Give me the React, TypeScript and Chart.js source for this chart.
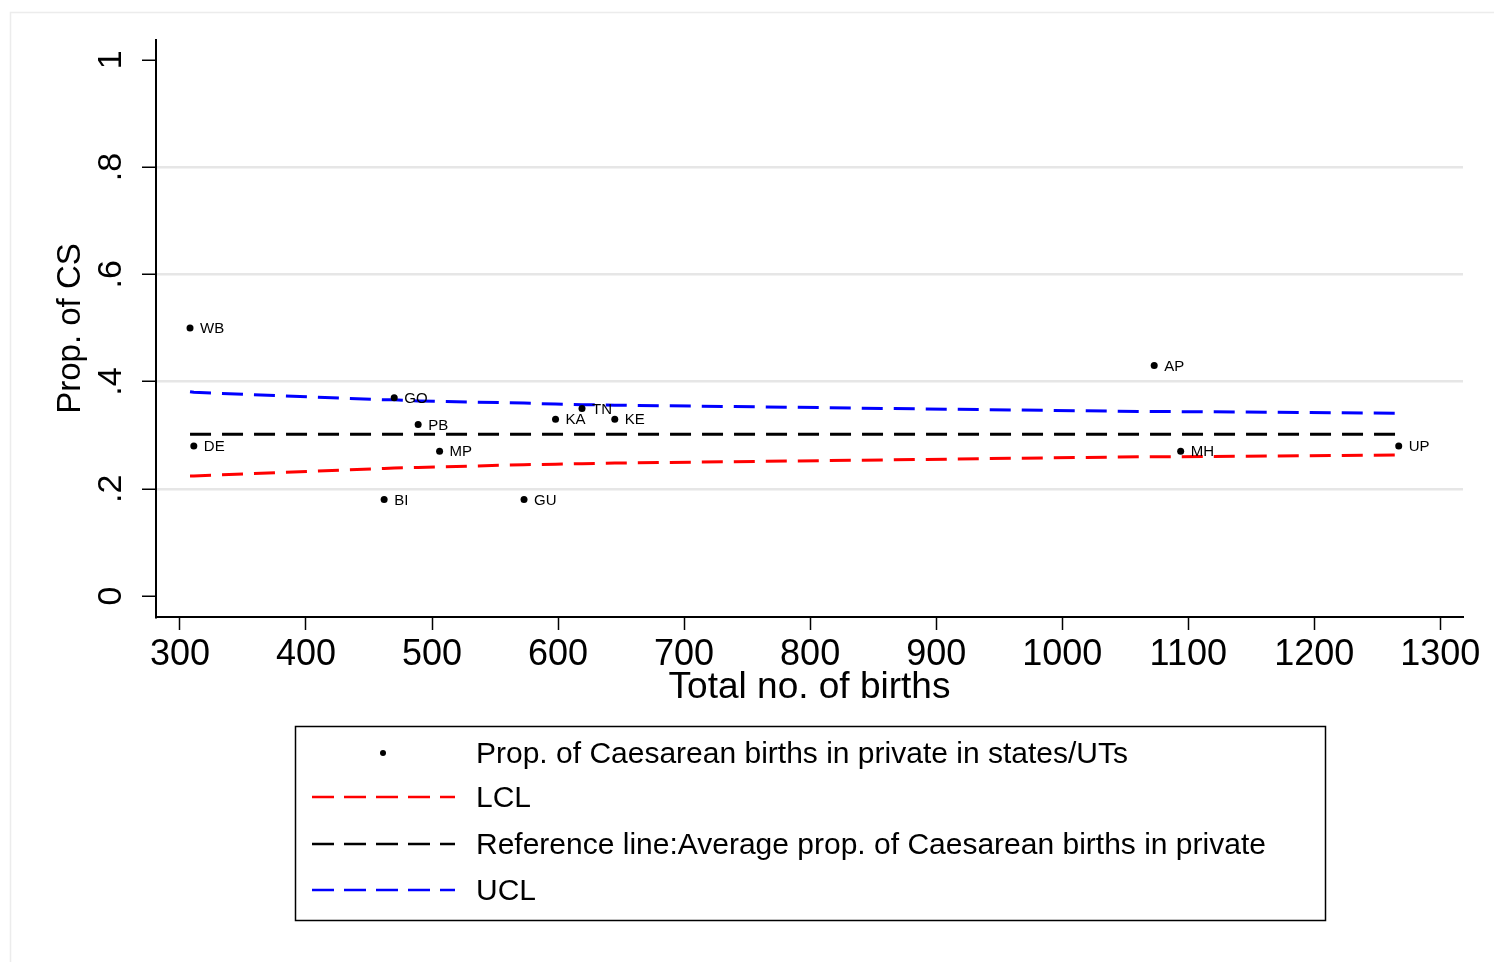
import React, { useEffect, useRef } from "react";
import { Chart, registerables } from "chart.js";

Chart.register(...registerables);

// ---- data ----
const states = ["WB", "DE", "GO", "PB", "MP", "BI", "KA", "TN", "KE", "GU", "AP", "MH", "UP"];
const births = [308, 311, 470, 489, 506, 462, 598, 619, 645, 573, 1073, 1094, 1267];
const propCS = [0.5, 0.28, 0.37, 0.32, 0.27, 0.18, 0.33, 0.35, 0.33, 0.18, 0.43, 0.27, 0.28];

const limitBirths = [308, 311, 462, 470, 489, 506, 573, 598, 619, 645, 1073, 1094, 1267];
const lcl = [0.224, 0.224, 0.238, 0.239, 0.24, 0.241, 0.245, 0.246, 0.247, 0.248, 0.26, 0.26, 0.263];
const refLine = [0.302, 0.302, 0.302, 0.302, 0.302, 0.302, 0.302, 0.302, 0.302, 0.302, 0.302, 0.302, 0.302];
const ucl = [0.381, 0.38, 0.366, 0.366, 0.364, 0.363, 0.36, 0.358, 0.357, 0.356, 0.344, 0.344, 0.341];

const xTicks = [300, 400, 500, 600, 700, 800, 900, 1000, 1100, 1200, 1300];
const yTicks = [0, 0.2, 0.4, 0.6, 0.8, 1];

const legendLabels = [
  "Prop. of Caesarean births in private in states/UTs",
  "LCL",
  "Reference line:Average prop. of Caesarean births in private",
  "UCL",
];
const xTitle = "Total no. of births";
const yTitle = "Prop. of CS";

const FONT = "'Liberation Sans', Arial, Helvetica, sans-serif";
const DASH = [21, 11];

function fmtY(v: number) {
  if (v === 0) return "0";
  if (v === 1) return "1";
  return "." + Math.round(v * 10);
}

export default function App() {
  const ref = useRef<HTMLCanvasElement | null>(null);

  useEffect(() => {
    document.body.style.margin = "0";
    document.body.style.overflow = "hidden";
    const canvas = ref.current;
    if (!canvas) return;

    const decor = {
      id: "decor",
      beforeDraw(chart: any) {
        const ctx = chart.ctx;
        ctx.save();
        ctx.fillStyle = "#ffffff";
        ctx.fillRect(0, 0, chart.width, chart.height);
        ctx.strokeStyle = "#ececec";
        ctx.lineWidth = 1.5;
        ctx.strokeRect(10.5, 12.5, chart.width + 20, chart.height + 20);
        ctx.restore();
      },
      afterDatasetsDraw(chart: any) {
        const ctx = chart.ctx;
        // point labels
        const meta = chart.getDatasetMeta(0);
        ctx.save();
        ctx.fillStyle = "#000";
        ctx.font = `15px ${FONT}`;
        ctx.textBaseline = "middle";
        ctx.textAlign = "left";
        meta.data.forEach((el: any, i: number) => {
          ctx.fillText(states[i], el.x + 10, el.y + 1);
        });
        ctx.restore();
      },
      afterDraw(chart: any) {
        const ctx = chart.ctx;
        const area = chart.chartArea;
        const ys = chart.scales.y;
        ctx.save();
        ctx.fillStyle = "#000";
        // y tick labels (rotated)
        ctx.font = `34px ${FONT}`;
        ctx.textAlign = "center";
        ctx.textBaseline = "middle";
        ys.ticks.forEach((t: any) => {
          const py = ys.getPixelForValue(t.value);
          ctx.save();
          ctx.translate(112, py);
          ctx.rotate(-Math.PI / 2);
          ctx.fillText(fmtY(t.value), 0, 0);
          ctx.restore();
        });
        // y title
        ctx.save();
        ctx.font = `33px ${FONT}`;
        ctx.translate(71, (area.top + area.bottom) / 2);
        ctx.rotate(-Math.PI / 2);
        ctx.fillText(yTitle, 0, 0);
        ctx.restore();
        // x title
        ctx.font = `37px ${FONT}`;
        ctx.fillText(xTitle, (area.left + area.right) / 2, area.bottom + 71);

        // legend
        const lx = 295, ly = 726, lw = 1030, lh = 194;
        ctx.strokeStyle = "#000";
        ctx.lineWidth = 1.5;
        ctx.strokeRect(lx + 0.5, ly + 0.5, lw, lh);
        const rows = [753, 797, 844, 890];
        const colors = ["#000", "#ff0000", "#000", "#0000ff"];
        ctx.font = `30px ${FONT}`;
        ctx.textAlign = "left";
        rows.forEach((ry, i) => {
          if (i === 0) {
            ctx.beginPath();
            ctx.arc(383, ry, 3, 0, Math.PI * 2);
            ctx.fillStyle = "#000";
            ctx.fill();
          } else {
            ctx.save();
            ctx.strokeStyle = colors[i];
            ctx.lineWidth = 2.5;
            ctx.setLineDash([22, 10]);
            ctx.beginPath();
            ctx.moveTo(312, ry);
            ctx.lineTo(455, ry);
            ctx.stroke();
            ctx.restore();
          }
          ctx.fillStyle = "#000";
          ctx.fillText(legendLabels[i], 476, ry + 2);
        });
        ctx.restore();
      },
    };

    const pts = births.map((b, i) => ({ x: b, y: propCS[i] }));
    const line = (vals: number[]) => limitBirths.map((b, i) => ({ x: b, y: vals[i] }));
    const lineStyle = {
      showLine: true,
      borderWidth: 3,
      borderDash: DASH,
      borderCapStyle: "butt",
      pointRadius: 0,
      fill: false,
    };

    const chart = new Chart(canvas, {
      type: "scatter",
      data: {
        datasets: [
          {
            label: legendLabels[0],
            data: pts,
            backgroundColor: "#000",
            borderColor: "#000",
            pointRadius: 3.5,
            pointHoverRadius: 3.5,
            pointBorderWidth: 0,
          },
          { label: legendLabels[1], data: line(lcl), borderColor: "#ff0000", ...lineStyle },
          { label: legendLabels[2], data: line(refLine), borderColor: "#000", ...lineStyle },
          { label: legendLabels[3], data: line(ucl), borderColor: "#0000ff", ...lineStyle },
        ],
      },
      options: {
        responsive: false,
        animation: false,
        events: [],
        layout: { padding: { left: 0, top: 40, right: 31, bottom: 245 } },
        plugins: {
          legend: { display: false },
          tooltip: { enabled: false },
          title: { display: false },
        },
        scales: {
          x: {
            type: "linear",
            min: 281,
            max: 1318,
            afterBuildTicks: (s: any) => {
              s.ticks = xTicks.map((v) => ({ value: v }));
            },
            afterFit: (s: any) => {
              s.height = 100;
            },
            grid: {
              drawOnChartArea: false,
              drawTicks: true,
              tickLength: 13,
              tickColor: "#000",
              tickWidth: 1.5,
            },
            border: { display: true, color: "#000", width: 2 },
            ticks: {
              color: "#000",
              font: { family: FONT, size: 36 },
              padding: 3,
              maxRotation: 0,
              minRotation: 0,
              autoSkip: false,
              callback: (v: any) => String(v),
            },
          },
          y: {
            type: "linear",
            min: -0.039,
            max: 1.037,
            afterBuildTicks: (s: any) => {
              s.ticks = yTicks.map((v) => ({ value: v }));
            },
            afterFit: (s: any) => {
              s.width = 156;
            },
            grid: {
              color: (c: any) =>
                c.tick && (c.tick.value === 0 || c.tick.value === 1) ? "rgba(0,0,0,0)" : "#e6e6e6",
              lineWidth: 2.5,
              drawTicks: true,
              tickLength: 14,
              tickColor: "#000",
              tickWidth: 1.5,
            },
            border: { display: true, color: "#000", width: 2 },
            ticks: { display: false },
          },
        },
      },
      plugins: [decor],
    } as any);

    return () => chart.destroy();
  }, []);

  return (
    <div style={{ width: 1494, height: 962 }}>
      <canvas ref={ref} width={1494} height={962} style={{ display: "block" }} />
    </div>
  );
}
